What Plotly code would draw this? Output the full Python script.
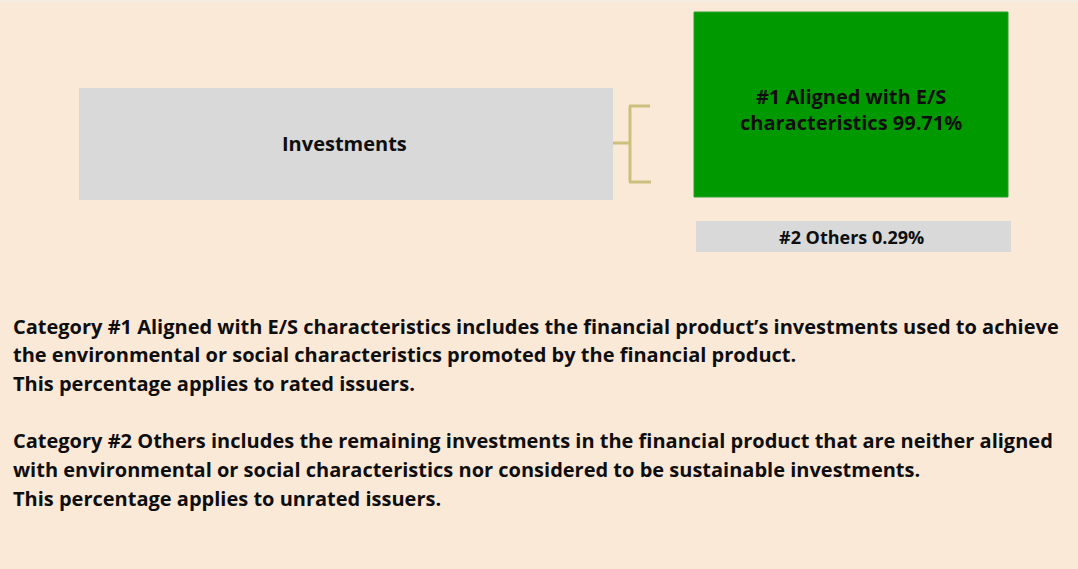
import plotly.graph_objects as go

# ---- data ----
categories = ["Investments", "#1 Aligned with E/S characteristics", "#2 Others"]
shares = [100.0, 99.71, 0.29]
labels = ["Investments",
          "#1 Aligned with E/S<br>characteristics 99.71%",
          "#2 Others 0.29%"]
label_sizes = [20, 20, 18]
notes = [
    "Category #1 Aligned with E/S characteristics includes the financial product\u2019s investments used to achieve",
    "the environmental or social characteristics promoted by the financial product.",
    "This percentage applies to rated issuers.",
    "",
    "Category #2 Others includes the remaining investments in the financial product that are neither aligned",
    "with environmental or social characteristics nor considered to be sustainable investments.",
    "This percentage applies to unrated issuers.",
]

W, H = 1078, 569
BG = "#FBE9D8"
GREY = "#D9D9D9"
GREEN = "#009A00"
BRACKET = "#CDBF7E"
FONT = "Open Sans"
FS = 20

fig = go.Figure()

# faint top edge
fig.add_shape(type="rect", xref="x", yref="y", x0=0, x1=W, y0=0, y1=3,
              fillcolor="#F6ECE2", line=dict(width=0), layer="below")

boxes = [
    (79, 613, 88, 200, GREY, None),
    (694, 1008, 12, 197, GREEN, "#2E9E2E"),
    (696, 1011, 221, 252, GREY, None),
]
for (x0, x1, y0, y1, col, line) in boxes:
    fig.add_shape(type="rect", xref="x", yref="y", x0=x0, x1=x1, y0=y0, y1=y1,
                  fillcolor=col, line=dict(color=line or col, width=1 if line else 0),
                  layer="below")

bw = 3
fig.add_shape(type="line", xref="x", yref="y", x0=613, x1=630, y0=143, y1=143,
              line=dict(color=BRACKET, width=bw))
fig.add_shape(type="line", xref="x", yref="y", x0=630, x1=630, y0=106, y1=182,
              line=dict(color=BRACKET, width=bw))
fig.add_shape(type="line", xref="x", yref="y", x0=629, x1=650, y0=106, y1=106,
              line=dict(color=BRACKET, width=bw))
fig.add_shape(type="line", xref="x", yref="y", x0=629, x1=651, y0=182, y1=182,
              line=dict(color=BRACKET, width=bw))

label_pos = [(344, 143), (851, 109), (851, 237)]
for (x, y), txt, fs in zip(label_pos, labels, label_sizes):
    fig.add_annotation(x=x, y=y, xref="x", yref="y", text=txt, showarrow=False,
                       font=dict(family=FONT, size=fs, color="#0E0E0E", weight="bold"),
                       align="center")

y0 = 326
for i, line in enumerate(notes):
    if not line:
        continue
    fig.add_annotation(x=11, y=y0 + i * 28.7, xref="x", yref="y", text=line,
                       showarrow=False, xanchor="left", yanchor="middle",
                       font=dict(family=FONT, size=FS, color="#0E0E0E", weight="bold"),
                       align="left")

fig.update_xaxes(range=[0, W], visible=False, fixedrange=True)
fig.update_yaxes(range=[H, 0], visible=False, fixedrange=True)
fig.update_layout(width=W, height=H, margin=dict(l=0, r=0, t=0, b=0),
                  paper_bgcolor=BG, plot_bgcolor=BG, showlegend=False)

fig.write_html("out.html", config={"displayModeBar": False},
               post_script="document.body.style.margin='0';document.body.style.background='%s';" % BG)
